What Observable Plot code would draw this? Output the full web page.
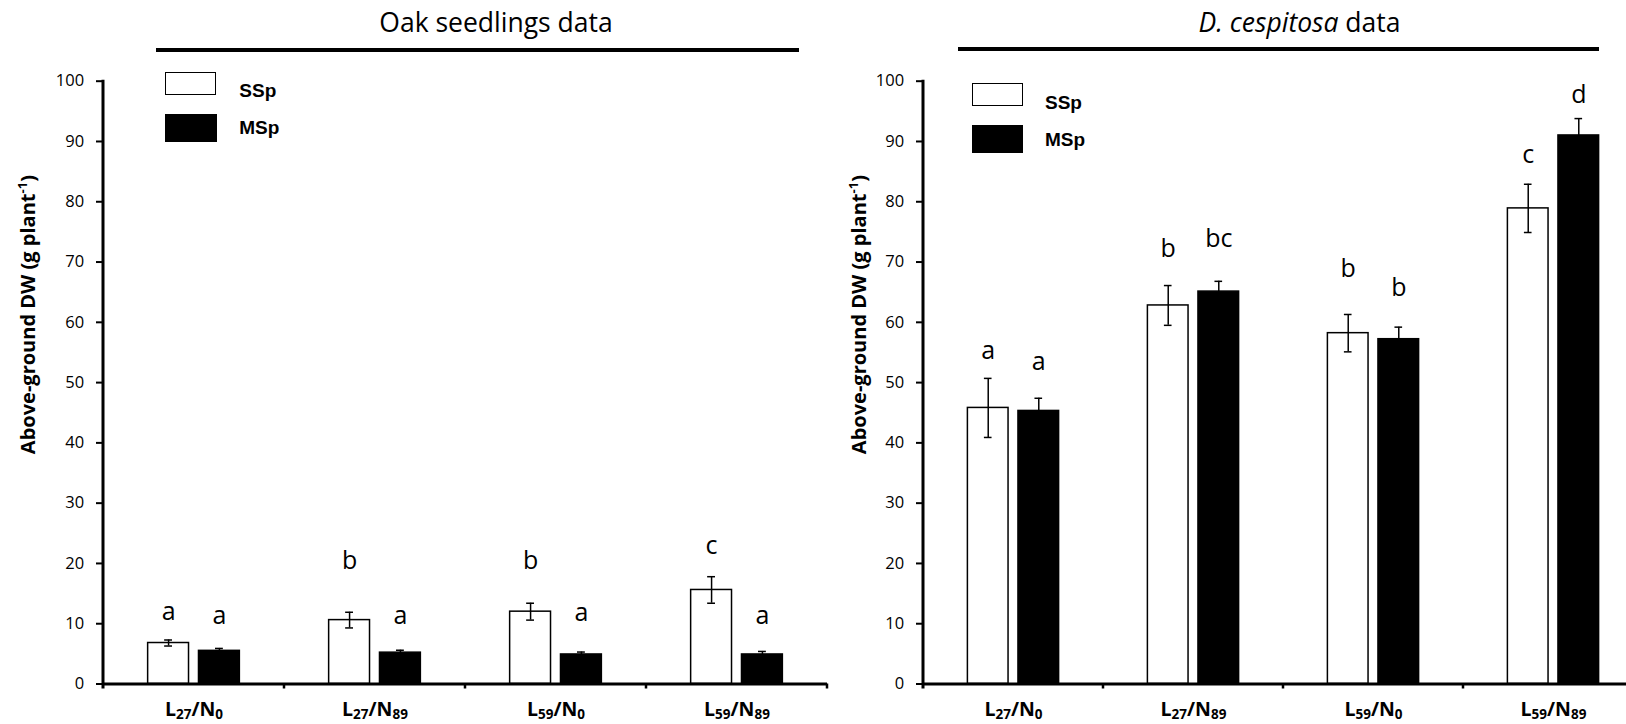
<!DOCTYPE html>
<html>
<head>
<meta charset="utf-8">
<script src="https://cdn.jsdelivr.net/npm/d3@7"></script>
<script src="https://cdn.jsdelivr.net/npm/@observablehq/plot@0.6"></script>
<style>
  html, body { margin: 0; padding: 0; background: #fff; }
  #page { position: relative; width: 1626px; height: 724px; overflow: hidden; background: #fff; font-family: "Open Sans", sans-serif; color: #000; }
  .panel { position: absolute; top: 0; }
  .title { position: absolute; font-size: 26.5px; line-height: 1; white-space: nowrap; transform: translateX(-50%); }
  .hline { position: absolute; height: 4px; background: #000; }
  .sw { position: absolute; box-sizing: border-box; }
  .sw.white { background: #fff; border: 1.5px solid #000; }
  .sw.black { background: #000; }
  .lt { position: absolute; font-family: "Liberation Sans", Arial, sans-serif; font-weight: bold; font-size: 19px; line-height: 1; white-space: nowrap; }
</style>
</head>
<body>
<div id="page"></div>
<script>
// ---------- data ----------
const categories = ["L27/N0", "L27/N89", "L59/N0", "L59/N89"];
const seriesNames = ["SSp", "MSp"];
const yTicks = [0, 10, 20, 30, 40, 50, 60, 70, 80, 90, 100];
const yLabel = "Above-ground DW (g plant-1)";
const panelTitles = ["Oak seedlings data", "D. cespitosa data"];

// Oak seedlings
const oakSSp = [6.8, 10.6, 12.0, 15.6];
const oakSSpErr = [0.5, 1.3, 1.4, 2.2];
const oakMSp = [5.5, 5.2, 4.9, 4.9];
const oakMSpErr = [0.4, 0.4, 0.4, 0.5];
const oakSSpLetters = ["a", "b", "b", "c"];
const oakMSpLetters = ["a", "a", "a", "a"];
const oakSSpLetterY = [12.0, 20.4, 20.4, 22.9];
const oakMSpLetterY = [11.2, 11.3, 11.7, 11.3];

// D. cespitosa
const dcSSp = [45.8, 62.8, 58.2, 78.9];
const dcSSpErr = [4.9, 3.3, 3.1, 4.0];
const dcMSp = [45.3, 65.1, 57.2, 91.0];
const dcMSpErr = [2.1, 1.7, 2.0, 2.8];
const dcSSpLetters = ["a", "b", "b", "c"];
const dcMSpLetters = ["a", "bc", "b", "d"];
const dcSSpLetterY = [55.2, 72.1, 68.8, 87.8];
const dcMSpLetterY = [53.4, 73.8, 65.7, 97.7];

// ---------- helpers ----------
function table(ssp, sspErr, msp, mspErr, sL, mL, sY, mY) {
  const rows = [];
  categories.forEach((c, i) => {
    rows.push({cat: c, series: seriesNames[0], value: ssp[i], err: sspErr[i], letter: sL[i], letterY: sY[i]});
    rows.push({cat: c, series: seriesNames[1], value: msp[i], err: mspErr[i], letter: mL[i], letterY: mY[i]});
  });
  return rows;
}

const SVGNS = "http://www.w3.org/2000/svg";
function setRuns(el, runs, small, shift) {
  while (el.firstChild) el.removeChild(el.firstChild);
  let cur = 0;
  for (const r of runs) {
    if (!r.t) continue;
    const ts = document.createElementNS(SVGNS, "tspan");
    const target = r.kind === "sub" ? shift : r.kind === "sup" ? -shift : 0;
    if (target !== cur) ts.setAttribute("dy", target - cur);
    cur = target;
    if (r.kind !== "n") ts.setAttribute("font-size", small);
    ts.textContent = r.t;
    el.appendChild(ts);
  }
}

function decorate(svg) {
  const fx = svg.scale("fx"), y = svg.scale("y");
  const n = fx.domain.length;
  const r0 = Math.min(...fx.range), r1 = Math.max(...fx.range);
  const step = fx.step != null ? fx.step : (r1 - r0) / n;
  const fxPos = c => (fx.apply ? fx.apply(c) : r0 + fx.domain.indexOf(c) * step);
  const yPos = v => (y.apply ? y.apply(v) : y.range[0] + (v - y.domain[0]) / (y.domain[1] - y.domain[0]) * (y.range[1] - y.range[0]));
  const bounds = fx.domain.map(fxPos);
  bounds.push(fxPos(fx.domain[n - 1]) + step);
  const y0 = yPos(0), yTop = yPos(yTicks[yTicks.length - 1]);
  const g = d3.select(svg).append("g").attr("stroke", "#000").attr("fill", "none");
  g.append("line").attr("x1", bounds[0]).attr("x2", bounds[0]).attr("y1", yTop - 1).attr("y2", y0 + 5).attr("stroke-width", 3);
  bounds.slice(1).forEach(b => {
    g.append("line").attr("x1", b).attr("x2", b).attr("y1", y0).attr("y2", y0 + 5).attr("stroke-width", 2.5);
  });
  svg.querySelectorAll("text").forEach(t => {
    const s = t.textContent;
    if (categories.includes(s)) {
      const parts = s.split(/(\d+)/);
      setRuns(t, parts.map((p, i) => ({t: p, kind: i % 2 ? "sub" : "n"})), 13.5, 3);
      t.setAttribute("font-weight", "bold");
    } else if (s === yLabel) {
      const m = s.match(/^(.*plant)(-1)(\))$/);
      setRuns(t, [{t: m[1], kind: "n"}, {t: m[2], kind: "sup"}, {t: m[3], kind: "n"}], 13, 7.5);
    }
  });
}

function panel(data, {width, marginLeft, marginRight, labelDx}) {
  const ssp = data.filter(d => d.series === seriesNames[0]);
  const msp = data.filter(d => d.series === seriesNames[1]);
  const svg = Plot.plot({
    width,
    height: 724,
    marginLeft,
    marginRight,
    marginTop: 80.7,
    marginBottom: 40.5,
    style: {fontFamily: '"Open Sans", sans-serif', fontSize: "16px", color: "#000", background: "transparent", maxWidth: "none", overflow: "visible"},
    fx: {domain: categories, padding: 0, label: null},
    x: {domain: seriesNames, paddingInner: 0.196, paddingOuter: 0.878, round: false, axis: null, label: null},
    y: {domain: [0, 100], label: null},
    marks: [
      Plot.axisY({ticks: yTicks, tickSize: 7, tickPadding: 12.4, strokeWidth: 2, fontSize: 16.5, label: null}),
      Plot.axisFx({anchor: "bottom", tickSize: 0, tickPadding: 18.5, fontSize: 19.5, fontWeight: "bold", label: null}),
      Plot.barY(ssp, {fx: "cat", x: "series", y: "value", fill: "white", stroke: "black", strokeWidth: 1.5}),
      Plot.barY(msp, {fx: "cat", x: "series", y: "value", fill: "black", stroke: "black", strokeWidth: 1.5}),
      Plot.ruleX(data, {fx: "cat", x: "series", y1: d => d.value - d.err, y2: d => d.value + d.err, stroke: "black", strokeWidth: 1.5}),
      Plot.tickY(data, {fx: "cat", x: "series", y: d => d.value + d.err, stroke: "black", strokeWidth: 1.5, insetLeft: 16.5, insetRight: 16.5}),
      Plot.tickY(data, {fx: "cat", x: "series", y: d => d.value - d.err, stroke: "black", strokeWidth: 1.5, insetLeft: 16.5, insetRight: 16.5}),
      Plot.ruleY([0], {stroke: "black", strokeWidth: 3}),
      Plot.text(data, {fx: "cat", x: "series", y: "letterY", text: "letter", fontSize: 25, fill: "black"}),
      Plot.text([{cat: categories[0], t: yLabel}], {fx: "cat", text: "t", frameAnchor: "left", textAnchor: "middle", lineAnchor: "middle", rotate: -90, dx: labelDx, dy: -68, fontSize: 20, fontWeight: "bold", fill: "black"})
    ]
  });
  decorate(svg);
  return svg;
}

// ---------- layout ----------
const page = document.getElementById("page");
function addDiv(cls, css, html) {
  const d = document.createElement("div");
  d.className = cls;
  Object.assign(d.style, css);
  if (html != null) d.innerHTML = html;
  page.appendChild(d);
  return d;
}

const oakData = table(oakSSp, oakSSpErr, oakMSp, oakMSpErr, oakSSpLetters, oakMSpLetters, oakSSpLetterY, oakMSpLetterY);
const dcData = table(dcSSp, dcSSpErr, dcMSp, dcMSpErr, dcSSpLetters, dcMSpLetters, dcSSpLetterY, dcMSpLetterY);

const left = addDiv("panel", {left: "0px", width: "830px"});
left.appendChild(panel(oakData, {width: 830, marginLeft: 101.7, marginRight: 1.9, labelDx: -75}));
const right = addDiv("panel", {left: "820px", width: "830px"});
right.appendChild(panel(dcData, {width: 830, marginLeft: 102.7, marginRight: 5.7, labelDx: -64}));

// titles and rules above each panel
addDiv("title", {left: "496px", top: "8.8px"}, panelTitles[0]);
addDiv("hline", {left: "155.5px", width: "643.5px", top: "47.6px"});
addDiv("title", {left: "1299.5px", top: "8.8px"}, "<i>D. cespitosa</i> data");
addDiv("hline", {left: "957.6px", width: "641.7px", top: "46.6px"});

// legends
addDiv("sw white", {left: "165px", top: "71.7px", width: "51px", height: "23.3px"});
addDiv("sw black", {left: "165px", top: "114px", width: "52px", height: "28.3px"});
addDiv("lt", {left: "239.3px", top: "80.6px"}, seriesNames[0]);
addDiv("lt", {left: "239.3px", top: "117.9px"}, seriesNames[1]);

addDiv("sw white", {left: "971.7px", top: "82.7px", width: "51.6px", height: "23px"});
addDiv("sw black", {left: "971.7px", top: "125px", width: "51.6px", height: "28.3px"});
addDiv("lt", {left: "1045px", top: "93.2px"}, seriesNames[0]);
addDiv("lt", {left: "1045px", top: "129.9px"}, seriesNames[1]);
</script>
</body>
</html>
